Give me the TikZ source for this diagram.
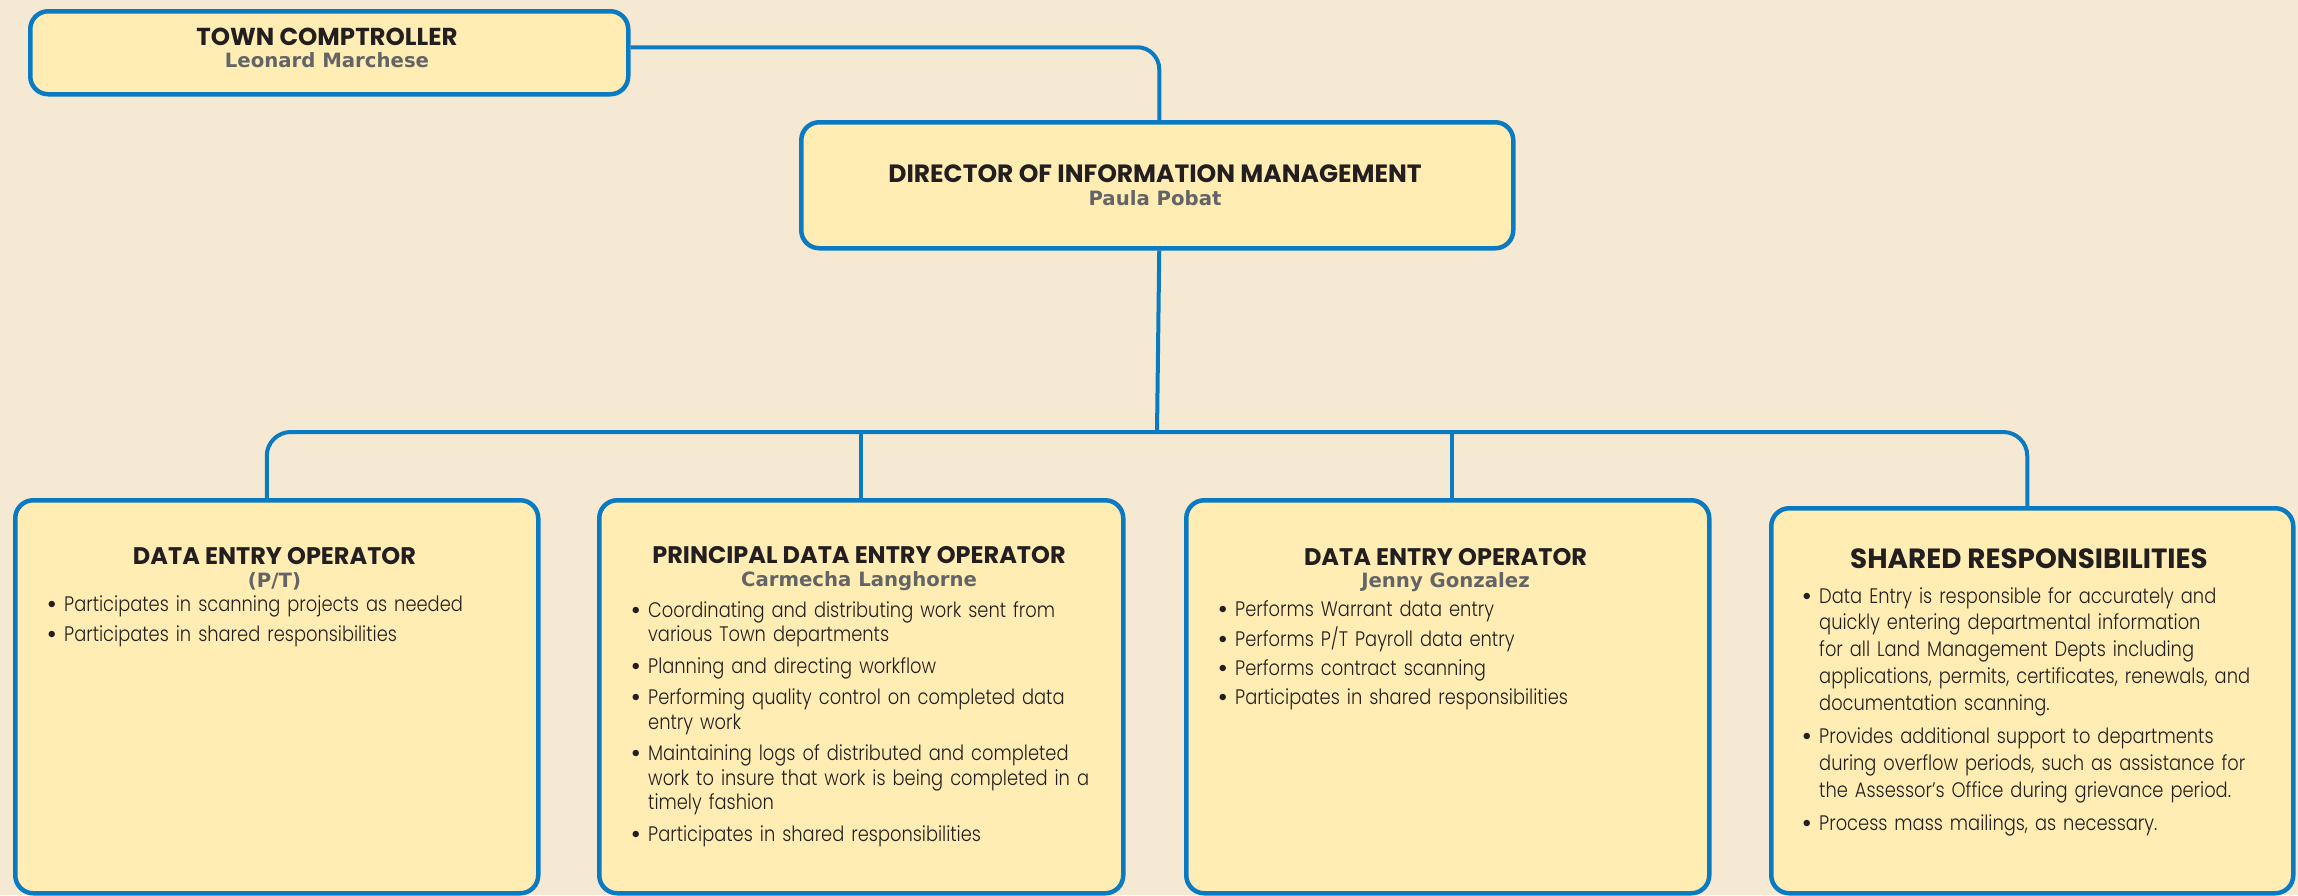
\documentclass[tikz,border=0pt]{standalone}
\usepackage{fontspec}
\newfontfamily\headfont{Poppins}[UprightFont={* Bold}]
\newfontfamily\namefont{DejaVu Sans}[UprightFont={* Bold}]
\newfontfamily\bodyfont{Poppins}[UprightFont={* Light}, FakeStretch=0.85]

\definecolor{pagebg}{HTML}{F5E9D3}
\definecolor{boxfill}{HTML}{FFEDB3}
\definecolor{boxline}{HTML}{0A7BC2}
\definecolor{ink}{HTML}{231F20}
\definecolor{namegray}{HTML}{636466}

% bullet lists inside the boxes
\newcommand\firstduty{\noindent\llap{{\headfont\textbullet}\hspace{7pt}}\ignorespaces}
\newcommand\nextduty[1]{\par\vspace{#1}\firstduty}

\tikzset{
  orgbox/.style={draw=boxline, fill=boxfill, line width=4.5pt,
    rounded corners=18pt, inner sep=0pt, anchor=north west},
  link/.style={draw=boxline, line width=4pt},
  roletitle/.style={font=\headfont\fontsize{24}{28}\selectfont, text=ink,
    anchor=base, inner sep=0pt},
  person/.style={font=\namefont\fontsize{19.7}{22}\selectfont, text=namegray,
    anchor=base, inner sep=0pt},
  duties/.style={font=\bodyfont\fontsize{21}{24.5}\selectfont, text=ink,
    anchor=base west, inner sep=0pt, text width=600pt},
  wideduties/.style={duties, font=\bodyfont\fontsize{21}{26.8}\selectfont}
}

\begin{document}
\begin{tikzpicture}[x=1pt,y=-1pt]
\fill[pagebg] (0,0) rectangle (2298,895);
\useasboundingbox (0,0) rectangle (2298,895);

% boxes
\node[orgbox, minimum width=598pt, minimum height=83pt] (tc) at (28,9) {};
\node[orgbox, minimum width=712pt, minimum height=126pt] (dir) at (799,120) {};
\node[orgbox, minimum width=523pt, minimum height=393pt] (deo1) at (13,498) {};
\node[orgbox, minimum width=524pt, minimum height=393pt] (pdeo) at (597,498) {};
\node[orgbox, minimum width=523pt, minimum height=393pt] (deo2) at (1184,498) {};
\node[orgbox, minimum width=522pt, minimum height=385pt] (shared) at (1769,506) {};

% reporting lines
\coordinate (hub) at (1157,432);
\draw[link, rounded corners=22pt] ([yshift=5.5pt]tc.east) -| ([xshift=2pt]dir.north);
\draw[link] ([xshift=2pt]dir.south) -- (hub);
\draw[link, rounded corners=24pt] ([xshift=-10pt]deo1.north) |- (hub) -| ([xshift=-5pt]shared.north);
\draw[link] (pdeo.north) -- (pdeo.north |- hub);
\draw[link] ([xshift=4pt]deo2.north) -- ([xshift=4pt]deo2.north |- hub);

% titles and names
\node[roletitle, font=\headfont\fontsize{24.5}{28}\selectfont] (tcT) at (327,45) {TOWN COMPTROLLER};
\node[person] (tcN) at (327,67) {Leonard Marchese};
\node[roletitle, font=\headfont\fontsize{25}{28}\selectfont] (dirT) at (1155,182) {DIRECTOR OF INFORMATION MANAGEMENT};
\node[person] (dirN) at (1155,205) {Paula Pobat};
\node[roletitle] (deo1T) at (274.5,564) {DATA ENTRY OPERATOR};
\node[person] (deo1N) at (274.5,587) {(P/T)};
\node[roletitle] (pdeoT) at (859,563) {PRINCIPAL DATA ENTRY OPERATOR};
\node[person] (pdeoN) at (859,586) {Carmecha Langhorne};
\node[roletitle] (deo2T) at (1445.5,565) {DATA ENTRY OPERATOR};
\node[person] (deo2N) at (1445.5,587) {Jenny Gonzalez};
\node[roletitle, font=\headfont\fontsize{27.8}{30}\selectfont] (sharedT) at (2029,568) {SHARED RESPONSIBILITIES};

% duty lists
\node[duties] (deo1L) at (64,611) {\raggedright
  \firstduty Participates in scanning projects as needed
  \nextduty{5.5pt} Participates in shared responsibilities};

\node[duties] (pdeoL) at (648,617) {\raggedright
  \firstduty Coordinating and distributing work sent from\newline various Town departments
  \nextduty{7pt} Planning and directing workflow
  \nextduty{7pt} Performing quality control on completed data\newline entry work
  \nextduty{7pt} Maintaining logs of distributed and completed\newline work to insure that work is being completed in a\newline timely fashion
  \nextduty{7pt} Participates in shared responsibilities};

\node[duties] (deo2L) at (1235,616) {\raggedright
  \firstduty Performs Warrant data entry
  \nextduty{4.5pt} Performs P/T Payroll data entry
  \nextduty{4.5pt} Performs contract scanning
  \nextduty{4.5pt} Participates in shared responsibilities};

\node[wideduties] (sharedL) at (1819,603) {\raggedright
  \firstduty Data Entry is responsible for accurately and\newline quickly entering departmental information\newline for all Land Management Depts including\newline applications, permits, certificates, renewals, and\newline documentation scanning.
  \nextduty{6.5pt} Provides additional support to departments\newline during overflow periods, such as assistance for\newline the Assessor’s Office during grievance period.
  \nextduty{6.5pt} Process mass mailings, as necessary.};
\end{tikzpicture}
\end{document}
